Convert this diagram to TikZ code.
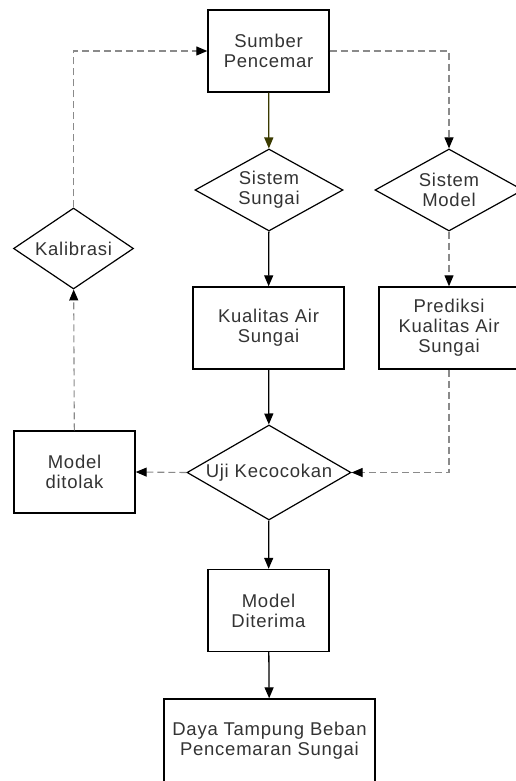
\documentclass[tikz,border=0pt]{standalone}
\usepackage{fontspec}
\setmainfont{Liberation Sans}[LetterSpace=4]
\usetikzlibrary{shapes.geometric,arrows.meta}
\definecolor{olivearrow}{HTML}{3A3A00}
\definecolor{dashgray}{HTML}{8A8A8A}
\begin{document}
\begin{tikzpicture}[
        x=1pt, y=-1pt,
        every node/.style={font=\fontsize{18.5}{20}\selectfont, text=black!80, align=center},
        box/.style={draw, line width=1.4pt, minimum width=121pt, minimum height=82pt, inner sep=0pt},
        decision/.style={draw, diamond, line width=1.2pt, inner sep=0pt},
        flow/.style={line width=1.3pt, -{Triangle[length=11pt,width=9pt]}},
        dashflow/.style={line width=1.1pt, dashgray, dash pattern=on 7pt off 4pt, -{Triangle[length=11pt,width=9pt,color=black]}}
    ]
            \useasboundingbox (0,0) rectangle (516,781);

            \node[
                box,
                name=sumber
            ] at (268.5,51) {Sumber\\Pencemar};

            \node[
                decision,
                aspect=1.8,
                minimum width=148pt,
                minimum height=82pt,
                name=sistemsungai
            ] at (269,190) {Sistem\\Sungai};
            \node[
                decision,
                aspect=1.8,
                minimum width=148pt,
                minimum height=82pt,
                name=sistemmodel
            ] at (449,190) {Sistem\\Model};
            \node[
                decision,
                aspect=1.48,
                minimum width=120pt,
                minimum height=81pt,
                name=kalibrasi
            ] at (73.5,248.5) {Kalibrasi};

            \node[
                box,
                minimum width=151pt,
                name=kualitas
            ] at (268.5,328) {Kualitas Air\\Sungai};
            \node[
                box,
                minimum width=140pt,
                name=prediksi
            ] at (449,328) {Prediksi\\Kualitas Air\\Sungai};

            \node[
                decision,
                aspect=1.72,
                minimum width=164pt,
                minimum height=95pt,
                name=uji
            ] at (269,472.5) {Uji Kecocokan};
            \node[
                box,
                name=ditolak
            ] at (74.5,472) {Model\\ditolak};

            \node[
                box,
                name=diterima
            ] at (268.5,610.5) {Model\\Diterima};
            \node[
                box,
                minimum width=211pt,
                minimum height=83pt,
                name=daya
            ] at (269.5,740.5) {Daya Tampung Beban\\Pencemaran Sungai};

            \draw[flow, olivearrow] (sumber) -- (sistemsungai);
            \draw[dashflow] (sumber.east) -| (sistemmodel.north);

            \draw[flow] (sistemsungai) -- (kualitas);
            \draw[dashflow] (sistemmodel) -- (prediksi);

            \draw[flow] (kualitas) -- (uji);
            \draw[dashflow] (prediksi.south) |- (uji.east);

            \draw[dashflow] (uji.west) -- (ditolak.east);
            \draw[dashflow] (ditolak) -- (kalibrasi);
            \draw[dashflow] (kalibrasi.north) |- (sumber.west);

            \draw[flow] (uji) -- (diterima);
            \draw[flow] (diterima) -- (daya);
        \end{tikzpicture}
\end{document}
